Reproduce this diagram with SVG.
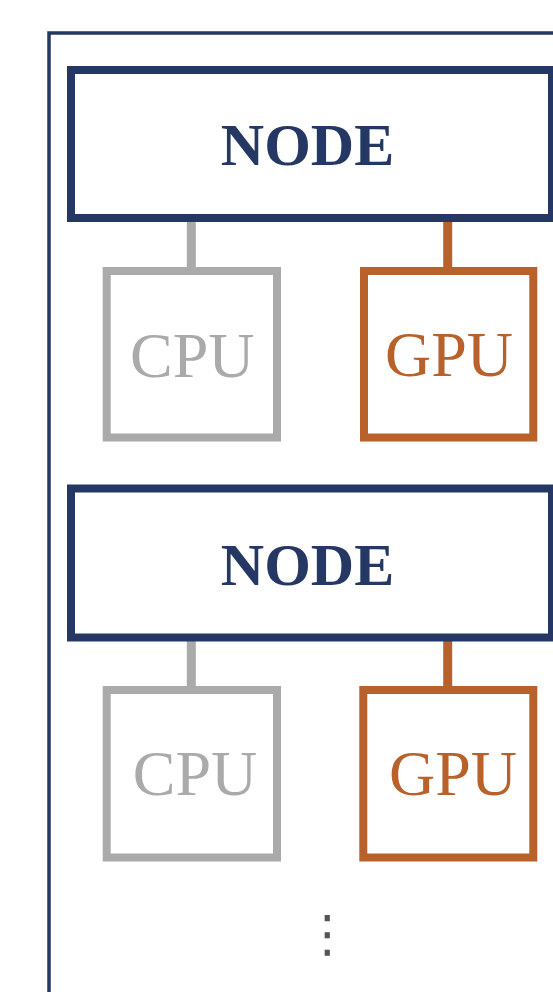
<svg xmlns="http://www.w3.org/2000/svg" width="553" height="992" viewBox="0 0 553 992">
<style>
.frame{fill:none;stroke:#253864;stroke-width:3.5}
.node{fill:#fff;stroke:#253864;stroke-width:8}
.cpu{fill:#fff;stroke:#aaaaaa;stroke-width:8}
.gpu{fill:#fff;stroke:#b8612b;stroke-width:8}
.lc{stroke:#aaaaaa;stroke-width:9}
.lg{stroke:#b8612b;stroke-width:9}
.tn{font-family:"Liberation Serif",serif;font-weight:bold;font-size:60px;fill:#253864;text-anchor:middle}
.tc{font-family:"Liberation Serif",serif;font-size:64px;fill:#aaaaaa;text-anchor:middle}
.tg{font-family:"Liberation Serif",serif;font-size:64px;fill:#b8612b;text-anchor:middle}
.dots{font-family:"DejaVu Sans",sans-serif;font-size:50px;fill:#555;text-anchor:middle}
</style>
<rect width="553" height="992" fill="#fff"/>
<rect class="frame" x="49" y="33" width="520" height="980"/>
<g id="connectors">
<line class="lc" x1="191.3" y1="218" x2="191.3" y2="271"/>
<line class="lg" x1="447.7" y1="218" x2="447.7" y2="271"/>
<line class="lc" x1="191.3" y1="637" x2="191.3" y2="690"/>
<line class="lg" x1="447.7" y1="637" x2="447.7" y2="690"/>
</g>
<g id="node1">
<rect class="node" x="71" y="70" width="481" height="148"/>
<text class="tn" x="307.5" y="165">NODE</text>
</g>
<g id="cpu1">
<rect class="cpu" x="106.7" y="271" width="170.3" height="166.5"/>
<text class="tc" x="192.3" y="377">CPU</text>
</g>
<g id="gpu1">
<rect class="gpu" x="364" y="271" width="169.3" height="166.5"/>
<text class="tg" x="449" y="376">GPU</text>
</g>
<g id="node2">
<rect class="node" x="71" y="488.5" width="481" height="149"/>
<text class="tn" x="307.5" y="585">NODE</text>
</g>
<g id="cpu2">
<rect class="cpu" x="106.7" y="690" width="170.3" height="167.5"/>
<text class="tc" x="195" y="795">CPU</text>
</g>
<g id="gpu2">
<rect class="gpu" x="363.3" y="690" width="170" height="167.5"/>
<text class="tg" x="453" y="795">GPU</text>
</g>
<text class="dots" x="327.5" y="951">⋮</text>
</svg>
